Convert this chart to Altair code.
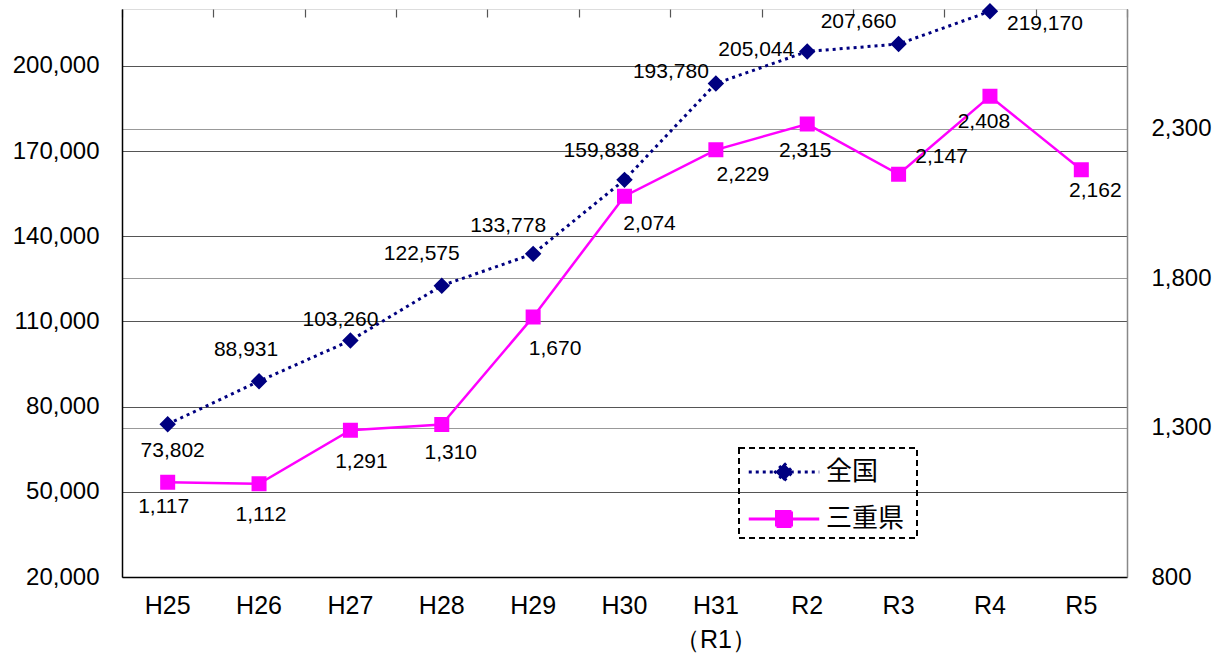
import altair as alt
import pandas as pd

# ---- data ----
categories = ["H25", "H26", "H27", "H28", "H29", "H30", "H31", "R2", "R3", "R4", "R5"]
category_sublabels = {"H31": "（R1）"}
national_values = [73802, 88931, 103260, 122575, 133778, 159838, 193780, 205044, 207660, 219170]
mie_values = [1117, 1112, 1291, 1310, 1670, 2074, 2229, 2315, 2147, 2408, 2162]
series_names = ["全国", "三重県"]
left_ticks = [20000, 50000, 80000, 110000, 140000, 170000, 200000]
right_ticks = [800, 1300, 1800, 2300]
left_domain = [20000, 220000]
right_domain = [800, 2700]

# ---- layout constants (label offsets in px) ----
national_label_offsets = [(5, 27), (-13, -31), (-10, -21), (-20, -32), (-25, -28), (-23, -29),
                          (-45, -11), (-51, -1), (-40, -22), (55, 13)]
mie_label_offsets = [(-4, 25), (2, 31), (11, 32), (9, 28), (22, 32), (25, 28), (27, 25),
                     (-2, 27), (43, -17), (-6, 26), (14, 21)]

NAVY = "#000080"
MAGENTA = "#FF00FF"
NUM_FONT = "Liberation Sans"
JP_FONT = "Noto Sans CJK JP"

nat_df = pd.DataFrame({
    "cat": categories[:len(national_values)],
    "value": national_values,
    "series": series_names[0],
    "label": [f"{v:,}" for v in national_values],
})
mie_df = pd.DataFrame({
    "cat": categories[:len(mie_values)],
    "value": mie_values,
    "series": series_names[1],
    "label": [f"{v:,}" for v in mie_values],
})

label_expr = " : ".join(
    [f"datum.value == '{k}' ? ['{k}', '{v}']" for k, v in category_sublabels.items()]
) + " : datum.value"

x_scale = alt.Scale(type="band", domain=categories, paddingInner=0, paddingOuter=0)

x_main = alt.X("cat:N", sort=categories, scale=x_scale, bandPosition=0.5, title=None,
               axis=alt.Axis(labelExpr=label_expr, labelFont=NUM_FONT, labelFontSize=25,
                             labelColor="black", labelPadding=16, labelLineHeight=34,
                             labelAngle=0, ticks=False, domainColor="black",
                             domainWidth=1.5, grid=False))
x_ticks_only = alt.X("cat:N", sort=categories, scale=x_scale, bandPosition=0.5, title=None,
                     axis=alt.Axis(labels=False, domain=False, ticks=True, tickSize=8,
                                   tickBand="extent", tickColor="#555", tickWidth=1.2,
                                   offset=-8, grid=False))

diamond = "M-4.7,0H4.7M0,-1.15L1.15,0L0,1.15L-1.15,0Z"
square = "M-4.7,0H4.7M-1,-1H1V1H-1Z"

legend = alt.Legend(title=None, orient="none", legendX=617, legendY=440, direction="vertical",
                    symbolSize=225, symbolStrokeWidth=3, symbolOffset=22, labelOffset=29,
                    labelFont=JP_FONT, labelFontSize=26, labelColor="black",
                    padding=10, rowPadding=18)

fill_enc = alt.Fill("series:N", scale=alt.Scale(domain=series_names, range=[NAVY, MAGENTA]), legend=legend)
stroke_enc = alt.Stroke("series:N", scale=alt.Scale(domain=series_names, range=[NAVY, MAGENTA]), legend=legend)
shape_enc = alt.Shape("series:N", scale=alt.Scale(domain=series_names, range=[diamond, square]), legend=legend)
dash_enc = alt.StrokeDash("series:N", scale=alt.Scale(domain=series_names, range=[[3, 4], [1, 0]]), legend=legend)


def text_layers(df, offsets, y_enc):
    layers = []
    for i, (dx, dy) in enumerate(offsets):
        cat = df["cat"].iloc[i]
        layers.append(
            alt.Chart(df).transform_filter(alt.datum.cat == cat)
            .mark_text(font=NUM_FONT, fontSize=21, color="black", dx=dx, dy=dy,
                       align="center", baseline="middle")
            .encode(x=alt.X("cat:N", sort=categories, scale=x_scale, bandPosition=0.5), y=y_enc,
                    text="label:N")
        )
    return layers


# ---- left (national) ----
y_left = alt.Y("value:Q", scale=alt.Scale(domain=left_domain, nice=False, zero=False), title=None,
               axis=alt.Axis(orient="left", values=left_ticks, format=",d", labelFont=NUM_FONT,
                             labelFontSize=24, labelColor="black", labelPadding=23, ticks=False,
                             domainColor="black", domainWidth=1.5, grid=True, gridColor="#555",
                             gridWidth=1.2))

nat_line = alt.Chart(nat_df).mark_line(color=NAVY, strokeWidth=3, strokeDash=[3, 4]).encode(x=x_main, y=y_left)
nat_pts = alt.Chart(nat_df).mark_point(filled=True, size=205, strokeWidth=0, opacity=1).encode(
    x=alt.X("cat:N", sort=categories, scale=x_scale, bandPosition=0.5), y=y_left,
    fill=fill_enc, stroke=stroke_enc, shape=shape_enc, strokeDash=dash_enc)
left = alt.layer(nat_line, nat_pts, *text_layers(nat_df, national_label_offsets, y_left))

# ---- right (Mie) ----
y_right = alt.Y("value:Q", scale=alt.Scale(domain=right_domain, nice=False, zero=False), title=None,
                axis=alt.Axis(orient="right", values=right_ticks, format=",d", labelFont=NUM_FONT,
                              labelFontSize=24, labelColor="black", labelPadding=24, ticks=False,
                              domainColor="#888", domainWidth=1.5, grid=True, gridColor="#999",
                              gridWidth=1.2))

mie_line = alt.Chart(mie_df).mark_line(color=MAGENTA, strokeWidth=2.5).encode(x=x_ticks_only, y=y_right)
mie_pts = alt.Chart(mie_df).mark_point(filled=True, size=225, strokeWidth=0, opacity=1).encode(
    x=alt.X("cat:N", sort=categories, scale=x_scale, bandPosition=0.5), y=y_right,
    fill=fill_enc, stroke=stroke_enc, shape=shape_enc, strokeDash=dash_enc)
right = alt.layer(mie_line, mie_pts, *text_layers(mie_df, mie_label_offsets, y_right))

# dashed legend frame (decoration)
legend_frame = alt.Chart(pd.DataFrame({"k": [0]})).mark_rect(
    fill=None, stroke="black", strokeDash=[6, 4], strokeWidth=2
).encode(x=alt.value(617), x2=alt.value(795), y=alt.value(439), y2=alt.value(529))

chart = (
    alt.layer(left, right, legend_frame)
    .resolve_scale(y="independent")
    .resolve_axis(x="independent")
    .properties(width=1005, height=568, autosize=alt.AutoSizeParams(type="none"),
                padding={"left": 122, "top": 9, "right": 93, "bottom": 80})
    .configure_view(stroke="#aaa", strokeDash=[2, 2], strokeWidth=1)
    .configure(background="white")
)

chart.save("out.html", embed_options={"renderer": "svg", "actions": False})
